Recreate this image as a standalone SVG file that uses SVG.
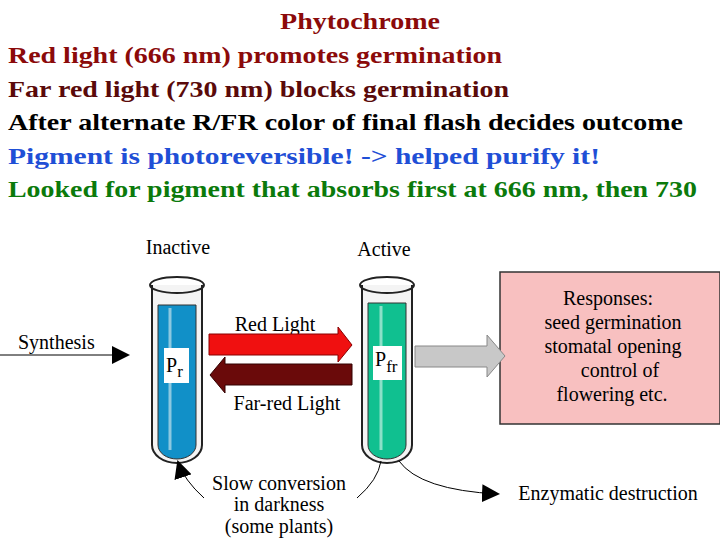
<svg xmlns="http://www.w3.org/2000/svg" width="720" height="540" viewBox="0 0 720 540">
<style>
.h{font-weight:bold;font-size:23px}
.d{font-size:20px;fill:#000}
.tube{stroke:#222;stroke-width:2;fill:#f4f4f4}
</style>
<defs>
<marker id="ah2" markerWidth="18" markerHeight="18" refX="16" refY="9" orient="auto" markerUnits="userSpaceOnUse"><path d="M0,0 L18,9 L0,18 z" fill="#000"/></marker>
</defs>
<rect width="720" height="540" fill="#fff"/>
<g font-family="'Liberation Serif', 'DejaVu Serif', serif">
<g id="title">
<text class="h" x="280" y="29" fill="#8b0a0a" textLength="160" lengthAdjust="spacingAndGlyphs">Phytochrome</text>
<text class="h" x="8" y="63" fill="#8b0a0a" textLength="494" lengthAdjust="spacingAndGlyphs">Red light (666 nm) promotes germination</text>
<text class="h" x="8" y="97" fill="#5a0a0a" textLength="501" lengthAdjust="spacingAndGlyphs">Far red light (730 nm) blocks germination</text>
<text class="h" x="8" y="130" fill="#000" textLength="675" lengthAdjust="spacingAndGlyphs">After alternate R/FR color of final flash decides outcome</text>
<text class="h" x="8" y="164" fill="#1f4fd6" textLength="592" lengthAdjust="spacingAndGlyphs">Pigment is photoreversible! -&gt; helped purify it!</text>
<text class="h" x="8" y="197" fill="#0b7a0b" textLength="689" lengthAdjust="spacingAndGlyphs">Looked for pigment that absorbs first at 666 nm, then 730</text>
</g>
<g id="tube-inactive">
<text class="d" x="178" y="254" text-anchor="middle">Inactive</text>
<path class="tube" d="M152,285 V445 a25,18 0 0 0 50,0 V285"/>
<ellipse cx="177" cy="285" rx="27" ry="8" fill="none" stroke="#222" stroke-width="2"/>
<path d="M158,305 V445 a19,14 0 0 0 38,0 V305 z" fill="#1190c8" stroke="#333"/>
<line x1="170" y1="308" x2="170" y2="450" stroke="#8cc8e0" stroke-width="3"/>
<rect x="164" y="348" width="25" height="35" fill="#fff"/>
<text class="d" x="166" y="372" font-size="21">P<tspan font-size="17" dy="5">r</tspan></text>
</g>
<g id="tube-active">
<text class="d" x="384" y="256" text-anchor="middle">Active</text>
<path class="tube" d="M362,285 V445 a25,18 0 0 0 50,0 V285"/>
<ellipse cx="387" cy="285" rx="27" ry="8" fill="none" stroke="#222" stroke-width="2"/>
<path d="M368,303 V445 a19,14 0 0 0 38,0 V303 z" fill="#10c090" stroke="#333"/>
<line x1="381" y1="306" x2="381" y2="450" stroke="#8ce0c8" stroke-width="3"/>
<rect x="373" y="346" width="29" height="34" fill="#fff"/>
<text class="d" x="375" y="366" font-size="21">P<tspan font-size="17" dy="6">fr</tspan></text>
</g>
<g id="responses">
<rect x="500" y="272" width="220" height="152" fill="#f8c0c0" stroke="#333" stroke-width="1.5"/>
<text class="d" x="608" y="305" text-anchor="middle">Responses:</text>
<text class="d" x="613" y="329" text-anchor="middle">seed germination</text>
<text class="d" x="613" y="353" text-anchor="middle">stomatal opening</text>
<text class="d" x="620" y="377" text-anchor="middle">control of</text>
<text class="d" x="612" y="401" text-anchor="middle">flowering etc.</text>
</g>
<g id="labels">
<text class="d" x="18" y="349">Synthesis</text>
<text class="d" x="275" y="331" text-anchor="middle">Red Light</text>
<text class="d" x="287" y="410" text-anchor="middle">Far-red Light</text>
<text class="d" x="279" y="490" text-anchor="middle">Slow conversion</text>
<text class="d" x="279" y="511" text-anchor="middle">in darkness</text>
<text class="d" x="279" y="533" text-anchor="middle">(some plants)</text>
<text class="d" x="608" y="500" text-anchor="middle">Enzymatic destruction</text>
</g>
</g>
<g id="connectors">
<line x1="0" y1="355" x2="128" y2="355" stroke="#000" stroke-width="1" marker-end="url(#ah2)"/>
<path d="M209,334 H338 V327 L352,345 L338,362 V355 H209 z" fill="#f01010" stroke="#800" stroke-width="1"/>
<path d="M352,364 H225 V357 L210,375 L225,393 V385 H352 z" fill="#6a0a0a" stroke="#300" stroke-width="1"/>
<path d="M415,346 H487 V335 L505,356 L487,377 V367 H415 z" fill="#c8c8c8" stroke="#888" stroke-width="1"/>
<path d="M204,498 Q184,480 178,462" fill="none" stroke="#000" stroke-width="1" marker-end="url(#ah2)"/>
<path d="M357,498 Q378,480 381,461" fill="none" stroke="#000" stroke-width="1"/>
<path d="M399,461 Q420,490 498,494" fill="none" stroke="#000" stroke-width="1" marker-end="url(#ah2)"/>
</g>
</svg>
